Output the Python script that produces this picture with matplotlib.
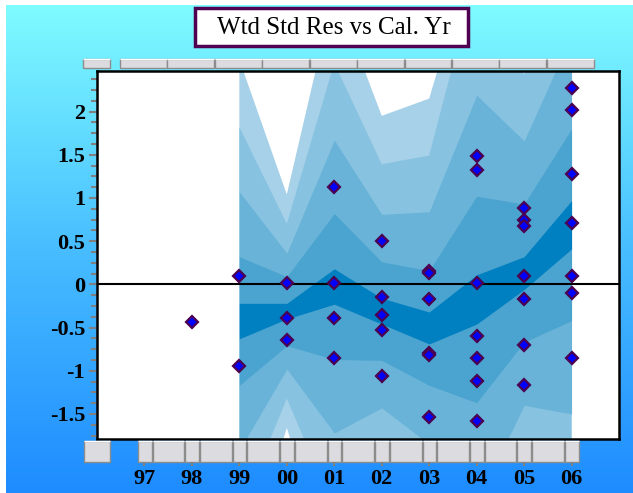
import numpy as np
import matplotlib
matplotlib.use("Agg")
import matplotlib.pyplot as plt
from matplotlib.colors import LinearSegmentedColormap
from matplotlib.patches import Rectangle
from matplotlib.ticker import MultipleLocator

# ---------- data ----------
cal_years = [97, 98, 99, 100, 101, 102, 103, 104, 105, 106]
cal_labels = ["97", "98", "99", "00", "01", "02", "03", "04", "05", "06"]

ytick_values = [-1.5, -1, -0.5, 0, 0.5, 1, 1.5, 2]
ytick_labels = ["-1.5", "-1", "-0.5", "0", "0.5", "1", "1.5", "2"]

# percentile fan, 99 .. 06 (outer -> inner)
band_years = [99, 100, 101, 102, 103, 104, 105, 106]
band1_hi = [2.60, 1.04, 3.40, 1.95, 2.15, 4.00, 3.20, 3.80]
band1_lo = [-3.45, -1.66, -3.45, -2.57, -3.16, -4.35, -2.94, -2.42]
band2_hi = [1.82, 0.70, 2.56, 1.39, 1.49, 3.60, 2.42, 3.40]
band2_lo = [-2.67, -1.32, -2.61, -2.01, -2.50, -3.95, -2.16, -2.02]
band3_hi = [1.07, 0.36, 1.67, 0.81, 0.84, 2.19, 1.66, 2.88]
band3_lo = [-1.92, -0.98, -1.72, -1.43, -1.85, -2.54, -1.40, -1.50]
band4_hi = [0.32, 0.09, 0.82, 0.26, 0.16, 1.02, 0.93, 1.80]
band4_lo = [-1.17, -0.71, -0.87, -0.88, -1.17, -1.37, -0.67, -0.42]
band5_hi = [-0.22, -0.22, 0.18, -0.16, -0.32, 0.11, 0.32, 0.97]
band5_lo = [-0.63, -0.40, -0.23, -0.46, -0.69, -0.46, -0.06, 0.41]

# weighted std residuals by calendar year
res_year = [98,
            99, 99,
            100, 100, 100,
            101, 101, 101, 101,
            102, 102, 102, 102, 102,
            103, 103, 103, 103, 103, 103,
            104, 104, 104, 104, 104, 104, 104,
            105, 105, 105, 105, 105, 105, 105,
            106, 106, 106, 106, 106, 106, 106]
res_value = [-0.44,
             0.10, -0.95,
             0.01, -0.39, -0.64,
             1.13, 0.02, -0.39, -0.85,
             0.50, -0.15, -0.36, -0.53, -1.06,
             0.15, 0.13, -0.17, -0.80, -0.82, -1.53,
             1.49, 1.32, 0.01, -0.60, -0.85, -1.12, -1.58,
             0.88, 0.75, 0.68, 0.10, -0.17, -0.70, -1.16,
             2.27, 2.02, 1.28, 0.71, 0.10, -0.10, -0.85]

band_colors = ["#A6D1E8", "#87C2E0", "#69B3D8", "#4BA4D0", "#0080C0"]

W, H = 633, 493
SERIF = "Liberation Serif"
XLIM = (96, 107)
YLIM = (-1.79, 2.475)


def fx(px):
    return px / W


def fy(py):
    return 1 - py / H


fig = plt.figure(figsize=(W / 100, H / 100), dpi=100)

# ---------- background ----------
bg = fig.add_axes([0, 0, 1, 1], zorder=-10)
grad = np.linspace(0, 1, 256)[:, None]
cmap = LinearSegmentedColormap.from_list("bg", ["#80FDFF", "#48BEFF", "#1E8CFF"])
bg.imshow(grad, aspect="auto", cmap=cmap, extent=[0, 1, 0, 1], origin="upper")
bg.add_patch(Rectangle((0, fy(5)), 1, 5 / H, fc="white", ec="none"))
bg.add_patch(Rectangle((0, 0), 6 / W, 1, fc="white", ec="none"))
bg.set_xlim(0, 1); bg.set_ylim(0, 1)
bg.axis("off")

# ---------- main plot ----------
ax = fig.add_axes([fx(97), fy(439), fx(522), (439 - 70.5) / H])
ax.set_facecolor("white")
bands = [(band1_lo, band1_hi), (band2_lo, band2_hi), (band3_lo, band3_hi),
         (band4_lo, band4_hi), (band5_lo, band5_hi)]
for (lo, hi), col in zip(bands, band_colors):
    ax.fill_between(band_years, lo, hi, color=col, lw=0, zorder=1)
ax.axhline(0, color="black", lw=1.5, zorder=2)
ax.plot(res_year, res_value, ls="none", marker="D", ms=6.5, mfc="#0000FF",
        mec="#4B0050", mew=1.6, zorder=3)

ax.set_xlim(*XLIM); ax.set_ylim(*YLIM)
ax.set_xticks([])
ax.set_yticks(ytick_values)
ax.set_yticklabels(ytick_labels, fontfamily=SERIF, fontweight="bold", fontsize=16)
ax.yaxis.set_minor_locator(MultipleLocator(0.125))
ax.tick_params(axis="y", which="major", direction="out", length=6, width=1.5,
               color="#808080", pad=2.5)
ax.tick_params(axis="y", which="minor", direction="out", length=4.5, width=1.5,
               color="#808080")
for s in ax.spines.values():
    s.set_linewidth(1.8)
    s.set_color("black")


def button(axh, x0, x1, y0, y1):
    axh.add_patch(Rectangle((x0, y0), x1 - x0, y1 - y0, fc="#DCDCE0",
                            ec="#8C8C8C", lw=1.0, clip_on=False))
    axh.plot([x0, x1], [y1, y1], color="white", lw=1.0, clip_on=False,
             solid_capstyle="butt")


# ---------- top button strip ----------
tax = fig.add_axes([fx(97), fy(68), fx(522), 9 / H])
tax.set_xlim(*XLIM); tax.set_ylim(0, 1)
tax.axis("off")
button(tax, 95.71, 96.27, 0, 1)
for yr in cal_years:
    button(tax, yr - 0.52, yr + 0.47, 0, 1)

# ---------- bottom button strip with year labels ----------
sax = fig.add_axes([fx(97), fy(462), fx(522), 21 / H])
sax.set_xlim(*XLIM); sax.set_ylim(0, 1)
sax.set_facecolor("none")
for s in sax.spines.values():
    s.set_visible(False)
sax.set_yticks([])
button(sax, 95.73, 96.27, 0, 1)
for i, yr in enumerate(cal_years):
    button(sax, yr - 0.14, yr + 0.15, 0, 1)
    if i < len(cal_years) - 1:
        button(sax, yr + 0.17, yr + 0.84, 0, 1)
sax.set_xticks(cal_years)
sax.set_xticklabels(cal_labels, fontfamily=SERIF, fontweight="bold", fontsize=16)
sax.tick_params(axis="x", direction="out", length=3, width=1.5, color="#808080", pad=2)

# ---------- title ----------
fig.patches.append(Rectangle((fx(195), fy(46)), 273 / W, 38 / H, transform=fig.transFigure,
                             fc="white", ec="#500050", lw=2.5, zorder=5))
fig.text(fx(334), fy(27.5), "Wtd Std Res vs Cal. Yr", ha="center", va="center",
         fontfamily=SERIF, fontsize=18, color="black", zorder=6)

fig.savefig("out.png", dpi=100)
